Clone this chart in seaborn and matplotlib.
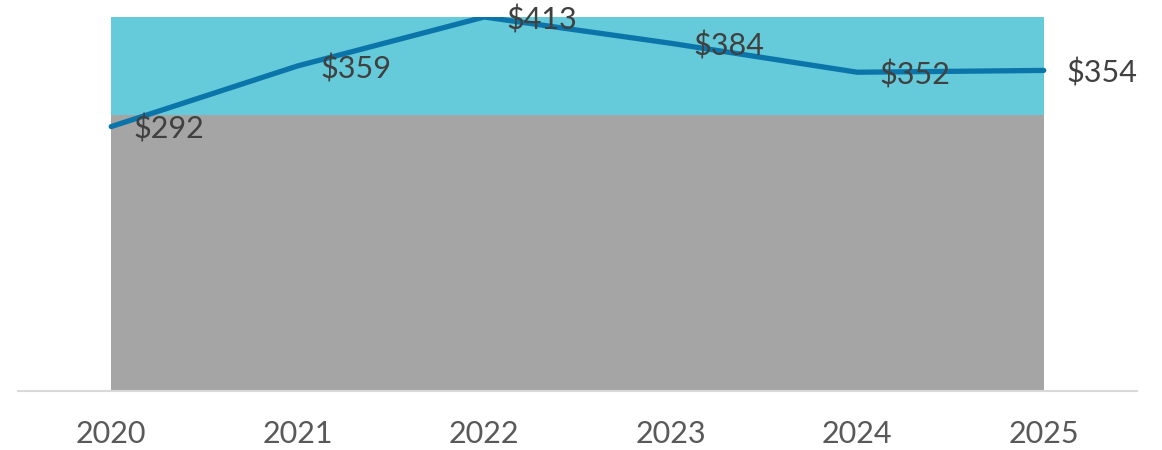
import pandas as pd
import seaborn as sns
import matplotlib.pyplot as plt

years = ["2020", "2021", "2022", "2023", "2024", "2025"]
values = [292, 359, 413, 384, 352, 354]
band_low = [305, 305, 305, 305, 305, 305]
band_high = [413, 413, 413, 413, 413, 413]

df = pd.DataFrame({"year": years, "value": values, "pos": range(len(years))})

sns.set_style("white")
plt.rcParams["font.family"] = ["Lato", "DejaVu Sans"]

fig = plt.figure(figsize=(11.62, 4.5), dpi=100)
ax = fig.add_axes([18 / 1162, 59 / 450, 1119 / 1162, 374 / 450])

ax.fill_between(df["pos"], 0, band_low, color="#a5a5a5", linewidth=0)
ax.fill_between(df["pos"], band_low, band_high, color="#65cbda", linewidth=0)

sns.lineplot(data=df, x="pos", y="value", ax=ax, color="#0b75aa", linewidth=3.8,
             solid_capstyle="round")

for x, v in zip(df["pos"], values):
    ax.annotate(f"${v}", (x, v), xytext=(16, -2), textcoords="offset points",
                va="center", ha="left", fontsize=22, color="#404040")

ax.set_xlim(-0.5, len(years) - 0.5)
ax.set_ylim(0, 413)
ax.set_xticks(df["pos"])
ax.set_xticklabels(years, fontsize=22, color="#595959")
ax.set_yticks([])
ax.set_xlabel("")
ax.set_ylabel("")
ax.tick_params(axis="x", length=0, pad=21)
for side in ["top", "left", "right"]:
    ax.spines[side].set_visible(False)
ax.spines["bottom"].set_color("#d9d9d9")
ax.spines["bottom"].set_linewidth(1.5)

fig.savefig("out.png", dpi=100)
